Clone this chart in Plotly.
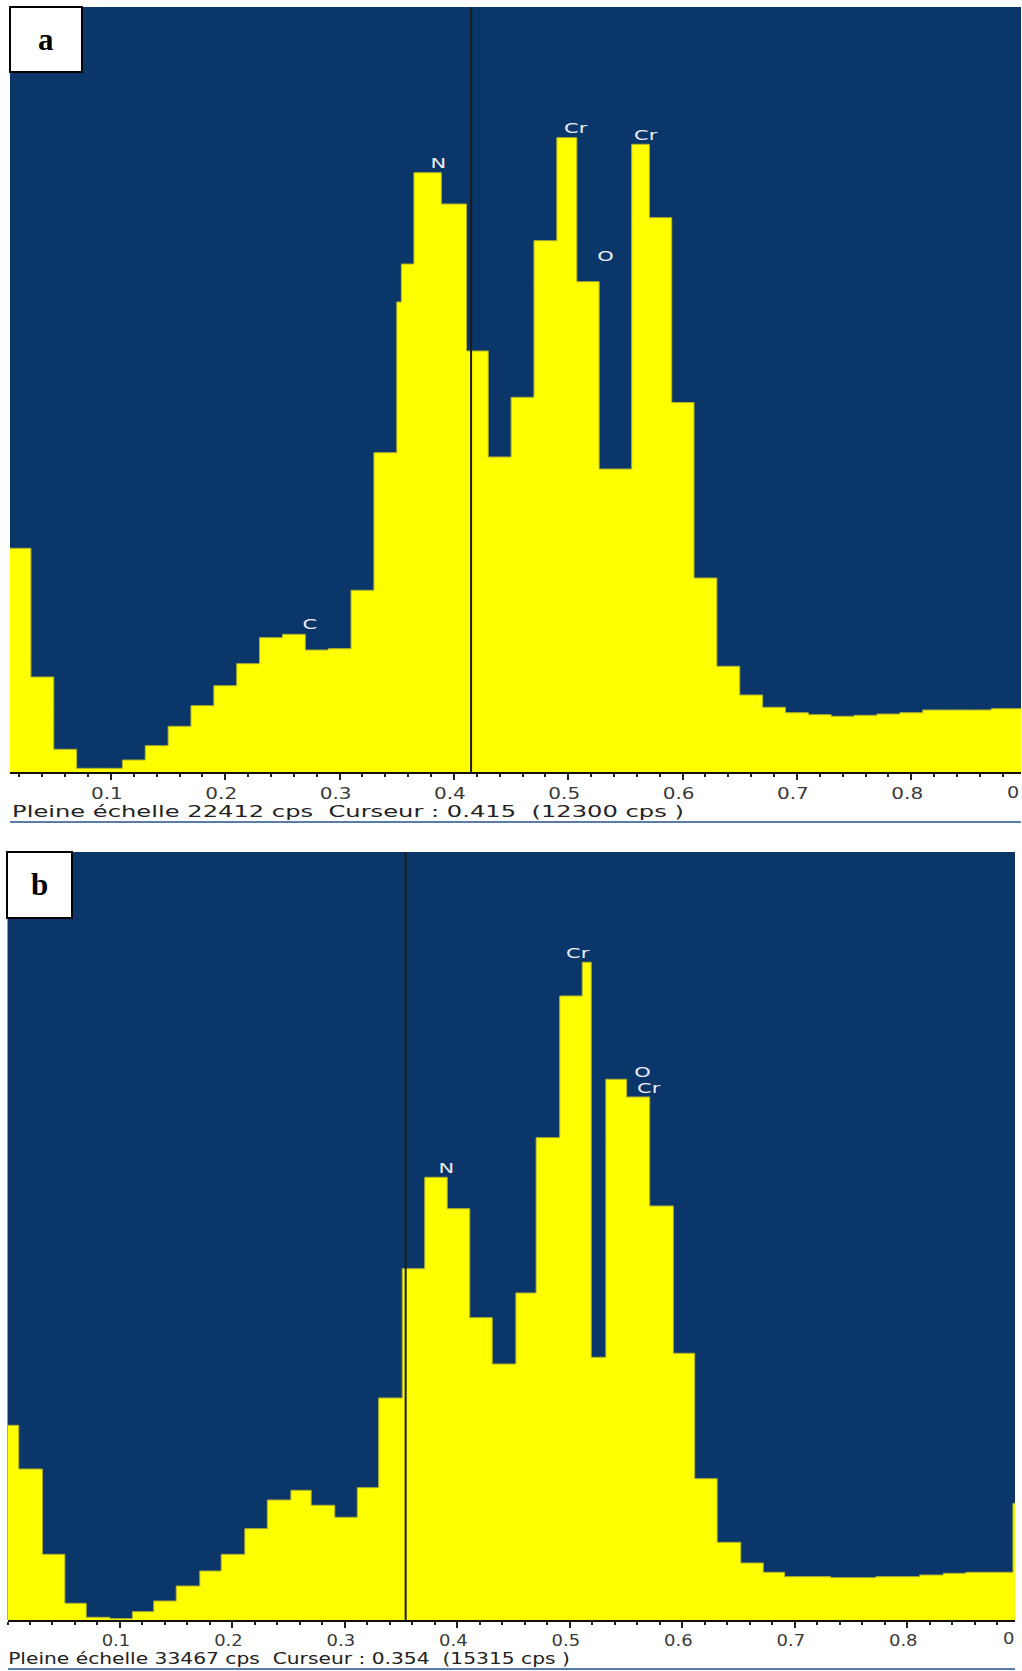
import json
import plotly.graph_objects as go

# ---------------- data ----------------
# Panel a : channel edges (keV) and counts (cps)
edges_a = [0.01, 0.03, 0.05, 0.07, 0.09, 0.11, 0.13, 0.15, 0.17, 0.19, 0.21, 0.23,
           0.25, 0.27, 0.29, 0.31, 0.33, 0.35, 0.354, 0.365, 0.389, 0.411, 0.43, 0.45,
           0.47, 0.49, 0.5075, 0.527, 0.5555, 0.571, 0.5905, 0.61, 0.63, 0.65, 0.67,
           0.69, 0.71, 0.73, 0.75, 0.77, 0.79, 0.81, 0.83, 0.85, 0.87, 0.89, 0.91]
counts_a = [6554, 2783, 665, 108, 108, 352, 771, 1339, 1943, 2528, 3173, 3935,
            4034, 3574, 3613, 5324, 9355, 13770, 14883, 17558, 16641, 12335, 9229,
            10978, 15566, 18583, 14365, 8877, 18390, 16240, 10826, 5684, 3097, 2256,
            1896, 1737, 1679, 1632, 1661, 1699, 1737, 1817, 1817, 1817, 1855, 1855]

# Panel b
edges_b = [0.0, 0.01, 0.031, 0.051, 0.07, 0.091, 0.111, 0.13, 0.15, 0.171, 0.19,
           0.211, 0.231, 0.252, 0.27, 0.291, 0.311, 0.33, 0.351, 0.371, 0.391, 0.411,
           0.431, 0.452, 0.47, 0.491, 0.511, 0.519, 0.532, 0.5505, 0.571, 0.592,
           0.611, 0.631, 0.652, 0.672, 0.691, 0.732, 0.772, 0.811, 0.832, 0.852,
           0.894, 0.91]
counts_b = [8485, 6580, 2863, 728, 118, 57, 362, 828, 1482, 2135, 2863, 3979, 5230,
            5652, 4999, 4476, 5766, 9675, 15310, 19293, 17925, 13174, 11156, 14251,
            21019, 27194, 28663, 11448, 23564, 22792, 18042, 11623, 6158, 3386, 2484,
            2079, 1887, 1843, 1887, 1961, 2035, 2079, 5086]

full_scale = [22412, 33467]
cursor_kev = [0.415, 0.354]
cursor_cps = [12300, 15315]
panel_letters = ["a", "b"]

peak_labels_a = ["C", "N", "Cr", "O", "Cr"]
peak_kev_a = [0.274, 0.386, 0.507, 0.533, 0.568]
peak_cps_a = [4336, 17835, 18878, 15128, 18664]

peak_labels_b = ["N", "Cr", "O", "Cr"]
peak_kev_b = [0.390, 0.5075, 0.5648, 0.5707]
peak_cps_b = [19685, 29055, 23869, 23199]

tick_vals = [0.1, 0.2, 0.3, 0.4, 0.5, 0.6, 0.7, 0.8]
tick_text = ["0.1", "0.2", "0.3", "0.4", "0.5", "0.6", "0.7", "0.8"]

# ---------------- styling ----------------
W, H = 1022, 1671
BG = "#0a3669"
YEL = "#ffff00"
FONT = "DejaVu Sans"

def px(x):
    return x / W

def py(y):
    return 1 - y / H

fig = go.Figure()

for edges, counts, xa, ya in [(edges_a, counts_a, "x", "y"), (edges_b, counts_b, "x2", "y2")]:
    fig.add_trace(go.Scatter(
        x=edges, y=counts + [counts[-1]],
        mode="lines", line=dict(shape="hv", color="#b0b030", width=1),
        fill="tozeroy", fillcolor=YEL,
        xaxis=xa, yaxis=ya, showlegend=False, hoverinfo="skip"))

def axis_common(fs):
    return dict(
        showgrid=False, zeroline=False, showline=True, linecolor="#111", linewidth=2,
        ticks="outside", ticklen=6, tickwidth=2, tickcolor="#222",
        tickmode="array", tickvals=tick_vals, ticktext=tick_text,
        tickfont=dict(family=FONT, size=fs, color="#3a3a3a"),
        ticklabelshift=-4,
        minor=dict(ticks="outside", ticklen=3, tickwidth=2, tickcolor="#222",
                   tickmode="linear", tick0=0, dtick=0.02),
        fixedrange=True,
    )

fig.update_layout(
    width=W, height=H, margin=dict(l=0, r=0, t=0, b=0),
    paper_bgcolor="white", plot_bgcolor=BG, showlegend=False,
    xaxis=dict(domain=[px(10), px(1021)], range=[0.0117, 0.896], anchor="y", **axis_common(16)),
    yaxis=dict(domain=[py(772), py(7)], range=[0, full_scale[0]], visible=False, fixedrange=True),
    xaxis2=dict(domain=[px(7.5), px(1015)], range=[0.0, 0.8958], anchor="y2", **axis_common(15)),
    yaxis2=dict(domain=[py(1620), py(852)], range=[0, full_scale[1]], visible=False, fixedrange=True),
)

shapes = []
annots = []
stretch = []   # per annotation: [mode, factor-or-target-width]

# cursor lines
for i, (xr, yr) in enumerate([("x", "y"), ("x2", "y2")]):
    shapes.append(dict(type="line", xref=xr, yref=yr + " domain", x0=cursor_kev[i], x1=cursor_kev[i],
                       y0=0, y1=1, line=dict(color="#1c1c1c", width=2), layer="above"))

# status lines and separator lines
status_y = [812, 1659]
status_x = [10, 6]
status_w = [672, 562]
status_fs = [16, 15]
sep_y = [822, 1669]
sep_x = [(10, 1021), (8, 1015)]
for i in range(2):
    txt = ("Pleine échelle %d cps\u00a0\u00a0Curseur : %.3f\u00a0\u00a0(%d cps )"
           % (full_scale[i], cursor_kev[i], cursor_cps[i]))
    annots.append(dict(xref="paper", yref="paper", x=px(status_x[i]), y=py(status_y[i]),
                       xanchor="left", yanchor="middle", showarrow=False, text=txt,
                       font=dict(family=FONT, size=status_fs[i], color="#222")))
    stretch.append(["width", status_w[i]])
    shapes.append(dict(type="line", xref="paper", yref="paper",
                       x0=px(sep_x[i][0]), x1=px(sep_x[i][1]), y0=py(sep_y[i]), y1=py(sep_y[i]),
                       line=dict(color="#5a7cab", width=2)))

# cut-off tick label at the right edge (only its first character is visible)
for tx, ty, fs in [(1013, 792, 16), (1009, 1639, 15)]:
    annots.append(dict(xref="paper", yref="paper", x=px(tx), y=py(ty), xanchor="center",
                       yanchor="middle", showarrow=False, text="0",
                       font=dict(family=FONT, size=fs, color="#3a3a3a")))
    stretch.append(["center", 1.2])

# panel letters
boxes = [(10, 7, 82, 72), (7, 852, 72, 918)]
for i, (x0, y0, x1, y1) in enumerate(boxes):
    shapes.append(dict(type="rect", xref="paper", yref="paper", x0=px(x0), x1=px(x1),
                       y0=py(y1), y1=py(y0), fillcolor="white",
                       line=dict(color="black", width=2), layer="above"))
    annots.append(dict(xref="paper", yref="paper", x=px((x0 + x1) / 2), y=py((y0 + y1) / 2),
                       xanchor="center", yanchor="middle", showarrow=False,
                       text="<b>%s</b>" % panel_letters[i],
                       font=dict(family="Liberation Serif", size=31, color="black")))
    stretch.append(["none", 1])

# peak labels
for labels, kev, cps, xr, yr in [(peak_labels_a, peak_kev_a, peak_cps_a, "x", "y"),
                                 (peak_labels_b, peak_kev_b, peak_cps_b, "x2", "y2")]:
    for t, xv, yv in zip(labels, kev, cps):
        annots.append(dict(xref=xr, yref=yr, x=xv, y=yv, xanchor="center", yanchor="middle",
                           showarrow=False, text=t,
                           font=dict(family=FONT, size=14, color="#e8ecf4")))
        stretch.append(["center", 1.5])

fig.update_layout(shapes=shapes, annotations=annots)

post = """
document.body.style.margin = '0';
document.body.style.overflow = 'hidden';
var gd = document.getElementById('{plot_id}');
var specs = %s;
function widen(t, s, left) {
  var b = t.getBBox();
  var cx = left ? b.x : b.x + b.width / 2;
  var tr = t.getAttribute('transform') || '';
  t.setAttribute('transform', tr + ' translate(' + cx + ',0) scale(' + s + ',1) translate(' + (-cx) + ',0)');
}
gd.querySelectorAll('.xtick text').forEach(function(t) { widen(t, 1.25, false); });
gd.querySelectorAll('.x2tick text').forEach(function(t) { widen(t, 1.2, false); });
gd.querySelectorAll('.annotation').forEach(function(g) {
  var i = parseInt(g.getAttribute('data-index'));
  var t = g.querySelector('.annotation-text');
  var sp = specs[i];
  if (!t || !sp || sp[0] === 'none') return;
  if (sp[0] === 'width') {
    var b = t.getBBox();
    widen(t, sp[1] / b.width, true);
  } else {
    widen(t, sp[1], false);
  }
});
""" % json.dumps(stretch)

fig.write_html("out.html", post_script=post, config={"displayModeBar": False, "staticPlot": True})
